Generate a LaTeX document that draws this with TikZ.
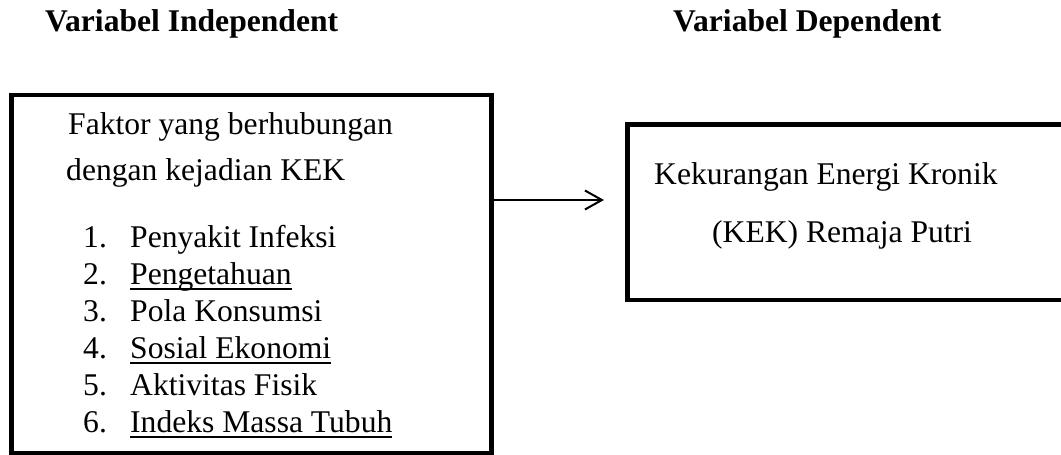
\documentclass[tikz,border=0pt]{standalone}
\usepackage{fontspec}
\setmainfont{Liberation Serif}
\usetikzlibrary{arrows.meta}
\newcommand\myul[1]{\setbox0\hbox{#1}\rlap{\rule[-6pt]{\wd0}{2pt}}\box0}
\begin{document}
\begin{tikzpicture}[x=1pt,y=-1pt,
  txt/.style={anchor=base west,inner sep=0pt,font=\fontsize{31.6}{38}\selectfont},
  head/.style={txt,font=\fontsize{31.6}{38}\selectfont\bfseries},
  frame/.style={draw,line width=4.5pt,inner sep=0pt},
  conn/.style={line width=2pt,-{Straight Barb[length=17pt,width=19pt,line width=2pt]}}]
\useasboundingbox (0,0) rectangle (1061,455);
\clip (0,0) rectangle (1061,455);
\node[head] (hi) at (45,31) {Variabel Independent};
\node[head] (hd) at (673,31) {Variabel Dependent};
\node[frame,minimum width=480pt,minimum height=358pt] (lbox) at (251.5,274) {};
\node[frame,minimum width=460pt,minimum height=175.5pt] (rbox) at (857.5,212.25) {};
\node[txt] (t1) at (68,134) {Faktor yang berhubungan};
\node[txt] (t2) at (66,180) {dengan kejadian KEK};
\foreach \n/\t [count=\i from 0] in {1/Penyakit Infeksi,2/\myul{Pengetahuan},3/Pola Konsumsi,4/\myul{Sosial Ekonomi},5/Aktivitas Fisik,6/\myul{Indeks Massa Tubuh}}{
  \node[txt] (n\n) at (83,247+37*\i) {\n.};
  \node[txt] (i\n) at (130,247+37*\i) {\t};
}
\node[txt] (r1) at (654,184) {Kekurangan Energi Kronik};
\node[txt] (r2) at (712,242) {(KEK) Remaja Putri};
\coordinate (tip) at (604,200);
\draw[conn] (lbox.east |- tip) -- (tip);
\end{tikzpicture}
\end{document}
